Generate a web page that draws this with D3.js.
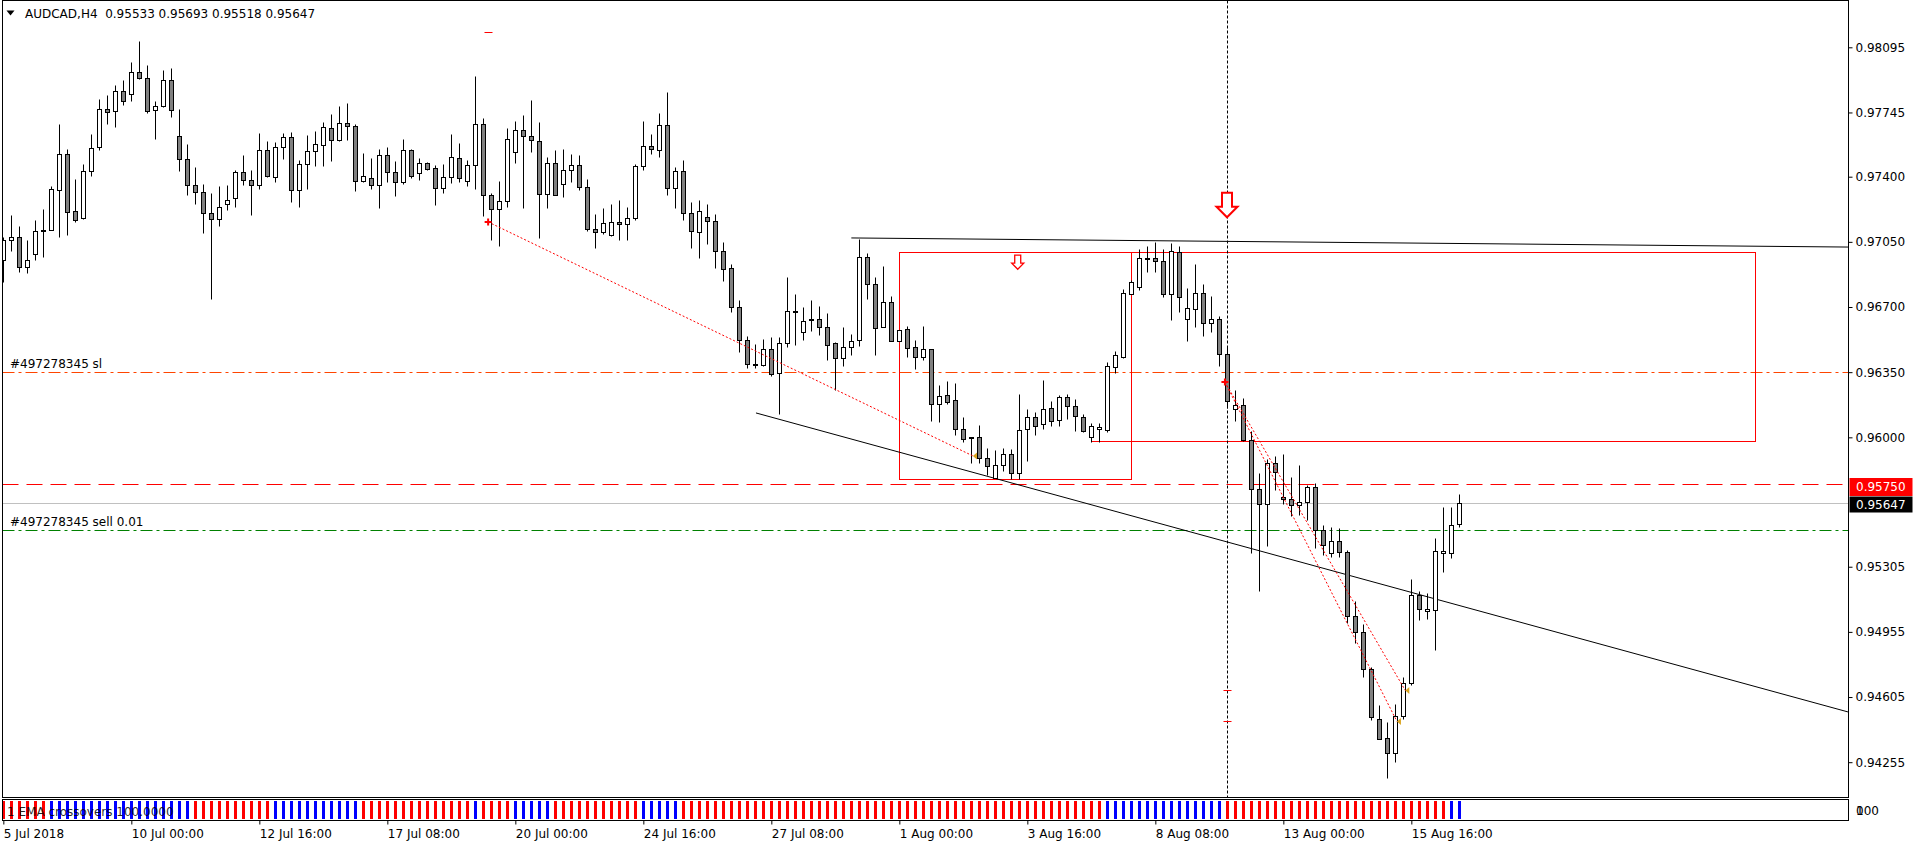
<!DOCTYPE html>
<html lang="en">
<head>
<meta charset="UTF-8">
<title>AUDCAD,H4</title>
<script src="https://d3js.org/d3.v7.min.js"></script>
<style>
    body { margin: 0; background: #fff; }
    svg { display: block; }
    text { font-family: "DejaVu Sans", sans-serif; font-size: 12px; }
</style>
</head>
<body>
<svg width="1916" height="847"></svg>
<script>
// ---- data ----
const title = "AUDCAD,H4  0.95533 0.95693 0.95518 0.95647";

const open = [
 0.96955,0.97062,0.97078,0.96915,0.96987,0.97114,0.97116,0.97331,0.97524,0.97218,
 0.97180,0.97432,0.97560,0.97766,0.97755,0.97862,0.97846,0.97964,0.97932,0.97760,
 0.97780,0.97921,0.97621,0.97497,0.97357,0.97320,0.97207,0.97175,0.97255,0.97283,
 0.97427,0.97384,0.97357,0.97545,0.97398,0.97562,0.97615,0.97331,0.97470,0.97540,
 0.97572,0.97664,0.97599,0.97690,0.97674,0.97379,0.97395,0.97357,0.97518,0.97427,
 0.97374,0.97545,0.97422,0.97475,0.97449,0.97341,0.97400,0.97502,0.97379,0.97465,
 0.97685,0.97304,0.97229,0.97272,0.97535,0.97653,0.97621,0.97594,0.97309,0.97476,
 0.97363,0.97438,0.97465,0.97347,0.97121,0.97105,0.97089,0.97159,0.97148,0.97180,
 0.97459,0.97567,0.97545,0.97680,0.97341,0.97433,0.97207,0.97105,0.97186,0.97164,
 0.97003,0.96912,0.96702,0.96525,0.96396,0.96391,0.96477,0.96346,0.96504,0.96675,
 0.96568,0.96632,0.96638,0.96595,0.96504,0.96428,0.96487,0.96525,0.96971,0.96826,
 0.96595,0.96729,0.96520,0.96584,0.96487,0.96434,0.96477,0.96181,0.96230,0.96198,
 0.96047,0.95994,0.96004,0.95891,0.95782,0.95850,0.95908,0.95809,0.96045,0.96107,
 0.96070,0.96158,0.96094,0.96216,0.96168,0.96107,0.96000,0.96045,0.96041,0.96380,
 0.96431,0.96771,0.96809,0.96960,0.96964,0.96949,0.96771,0.96994,0.96637,0.96690,
 0.96773,0.96616,0.96637,0.96450,0.96154,0.96174,0.95987,0.95720,0.95640,0.95864,
 0.95679,0.95671,0.95634,0.95655,0.95731,0.95500,0.95377,0.95443,0.95383,0.95038,
 0.94952,0.94757,0.94489,0.94386,0.94304,0.94504,0.94683,0.95151,0.95065,0.95075,
 0.95377,0.95377,0.95533
];
const high = [
 0.97076,0.97193,0.97134,0.97059,0.97166,0.97229,0.97349,0.97685,0.97551,0.97386,
 0.97466,0.97631,0.97819,0.97837,0.97895,0.97918,0.98014,0.98127,0.97998,0.97805,
 0.97971,0.97982,0.97762,0.97574,0.97452,0.97359,0.97315,0.97349,0.97354,0.97434,
 0.97515,0.97434,0.97635,0.97590,0.97585,0.97633,0.97639,0.97488,0.97622,0.97644,
 0.97692,0.97735,0.97778,0.97794,0.97681,0.97526,0.97499,0.97551,0.97558,0.97483,
 0.97601,0.97547,0.97499,0.97477,0.97465,0.97470,0.97628,0.97580,0.97492,0.97939,
 0.97717,0.97315,0.97375,0.97664,0.97698,0.97730,0.97810,0.97692,0.97508,0.97542,
 0.97547,0.97524,0.97519,0.97386,0.97198,0.97230,0.97255,0.97273,0.97236,0.97470,
 0.97698,0.97628,0.97740,0.97853,0.97450,0.97488,0.97266,0.97273,0.97252,0.97198,
 0.97048,0.96930,0.96736,0.96543,0.96500,0.96527,0.96539,0.96538,0.96860,0.96768,
 0.96699,0.96736,0.96704,0.96666,0.96511,0.96593,0.96554,0.97067,0.96992,0.96860,
 0.96922,0.96758,0.96579,0.96597,0.96525,0.96597,0.96477,0.96280,0.96301,0.96290,
 0.96108,0.96004,0.96066,0.95942,0.95930,0.95945,0.95940,0.96234,0.96152,0.96138,
 0.96308,0.96197,0.96230,0.96234,0.96205,0.96123,0.96076,0.96076,0.96407,0.96466,
 0.96795,0.96847,0.97011,0.97027,0.97048,0.97011,0.97042,0.97027,0.96801,0.96929,
 0.96822,0.96760,0.96651,0.96493,0.96255,0.96209,0.96035,0.95809,0.95881,0.95901,
 0.95909,0.95788,0.95850,0.95743,0.95757,0.95531,0.95521,0.95511,0.95396,0.95120,
 0.94997,0.94765,0.94561,0.94473,0.94566,0.94715,0.95237,0.95172,0.95166,0.95459,
 0.95624,0.95624,0.95693
];
const low = [
 0.96835,0.97001,0.96889,0.96880,0.96951,0.96969,0.97112,0.97076,0.97085,0.97157,
 0.97175,0.97404,0.97545,0.97683,0.97667,0.97787,0.97807,0.97927,0.97742,0.97603,
 0.97775,0.97721,0.97431,0.97304,0.97255,0.97100,0.96745,0.97136,0.97221,0.97237,
 0.97356,0.97196,0.97336,0.97398,0.97372,0.97495,0.97265,0.97237,0.97336,0.97458,
 0.97458,0.97486,0.97594,0.97596,0.97325,0.97372,0.97336,0.97234,0.97372,0.97297,
 0.97363,0.97395,0.97384,0.97438,0.97250,0.97313,0.97366,0.97372,0.97352,0.97334,
 0.97191,0.97062,0.97028,0.97238,0.97476,0.97232,0.97533,0.97071,0.97232,0.97304,
 0.97291,0.97372,0.97331,0.97109,0.97017,0.97092,0.97082,0.97058,0.97058,0.97166,
 0.97438,0.97522,0.97506,0.97300,0.97232,0.97170,0.97017,0.96964,0.97039,0.96910,
 0.96840,0.96674,0.96459,0.96375,0.96375,0.96382,0.96332,0.96128,0.96487,0.96495,
 0.96525,0.96572,0.96548,0.96418,0.96253,0.96385,0.96441,0.96491,0.96743,0.96443,
 0.96595,0.96520,0.96520,0.96432,0.96368,0.96418,0.96088,0.96083,0.96181,0.96015,
 0.95975,0.95860,0.95860,0.95798,0.95782,0.95819,0.95778,0.95778,0.95875,0.96014,
 0.96045,0.96059,0.96059,0.96097,0.96035,0.96029,0.95977,0.95977,0.96029,0.96343,
 0.96425,0.96771,0.96791,0.96888,0.96888,0.96754,0.96632,0.96672,0.96518,0.96594,
 0.96544,0.96565,0.96384,0.96158,0.96086,0.95979,0.95377,0.95172,0.95418,0.95716,
 0.95644,0.95577,0.95583,0.95556,0.95408,0.95367,0.95357,0.95357,0.95001,0.94894,
 0.94713,0.94479,0.94380,0.94169,0.94257,0.94487,0.94672,0.95018,0.95022,0.94857,
 0.95274,0.95350,0.95518
];
const close = [
 0.97062,0.97078,0.96915,0.96951,0.97110,0.97110,0.97336,0.97524,0.97211,0.97169,
 0.97432,0.97556,0.97766,0.97750,0.97862,0.97809,0.97964,0.97932,0.97755,0.97782,
 0.97921,0.97760,0.97497,0.97357,0.97320,0.97207,0.97175,0.97239,0.97277,0.97427,
 0.97384,0.97357,0.97545,0.97404,0.97562,0.97615,0.97331,0.97470,0.97540,0.97578,
 0.97669,0.97599,0.97690,0.97674,0.97379,0.97406,0.97357,0.97518,0.97427,0.97374,
 0.97545,0.97406,0.97475,0.97443,0.97341,0.97400,0.97508,0.97395,0.97465,0.97685,
 0.97304,0.97229,0.97272,0.97605,0.97653,0.97621,0.97599,0.97309,0.97476,0.97304,
 0.97438,0.97465,0.97347,0.97121,0.97105,0.97153,0.97159,0.97148,0.97180,0.97459,
 0.97567,0.97551,0.97680,0.97341,0.97433,0.97207,0.97110,0.97218,0.97164,0.97003,
 0.96906,0.96702,0.96525,0.96396,0.96389,0.96477,0.96342,0.96509,0.96681,0.96681,
 0.96627,0.96638,0.96595,0.96498,0.96428,0.96487,0.96520,0.96971,0.96826,0.96589,
 0.96729,0.96520,0.96579,0.96482,0.96434,0.96477,0.96181,0.96224,0.96192,0.96047,
 0.95993,0.96004,0.95891,0.95844,0.95850,0.95912,0.95809,0.96041,0.96107,0.96059,
 0.96154,0.96090,0.96216,0.96168,0.96113,0.96035,0.96059,0.96055,0.96384,0.96440,
 0.96773,0.96836,0.96964,0.96964,0.96945,0.96771,0.96999,0.96754,0.96696,0.96773,
 0.96616,0.96637,0.96450,0.96193,0.96172,0.95987,0.95720,0.95640,0.95864,0.95815,
 0.95671,0.95634,0.95655,0.95731,0.95500,0.95424,0.95443,0.95383,0.95038,0.94952,
 0.94757,0.94500,0.94380,0.94304,0.94504,0.94683,0.95151,0.95079,0.95079,0.95387,
 0.95387,0.95531,0.95647
];

// EMA crossover histogram, one letter per bar (r = down, b = up)
const emaCross = [
 "rrrrrr", "bbbbbbbbbbbbbbbbbb", "rrrrrrrrrr", "bbbbbbbbbbb", "rrrrrrrrrrrrrr",
 "b", "rrrr", "bbbbb", "rrrrrrrrrrr", "bbbbb",
 "rrrrrrrrrrrrrrrrrrrrrrrrrrrrrrrrrrrrrrrrrrrrrrrrrrrrr",
 "bbbbbbbbbbbbbbb", "rrrrrrrrrrrrrrrrrrrrrrrrrrrr", "bb"
].join("");

const priceTicks = [0.98095, 0.97745, 0.97400, 0.97050, 0.96700, 0.96350, 0.96000, 0.95305, 0.94955, 0.94605, 0.94255];
const timeTickIdx = [0, 16, 32, 48, 64, 80, 96, 112, 128, 144, 160, 176];
const timeLabels = ["5 Jul 2018", "10 Jul 00:00", "12 Jul 16:00", "17 Jul 08:00", "20 Jul 00:00", "24 Jul 16:00",
                    "27 Jul 08:00", "1 Aug 00:00", "3 Aug 16:00", "8 Aug 08:00", "13 Aug 00:00", "15 Aug 16:00"];

// order lines
const slPrice = 0.96350, slName = "#497278345 sl";
const orderPrice = 0.95500, orderName = "#497278345 sell 0.01";
const alertPrice = 0.95750;
const bidPrice = 0.95647;

// objects: [bar index, price]
const topTrend = [[106, 0.97071], [230.58, 0.97022]];
const lowTrend = [[94.08, 0.96131], [230.58, 0.94525]];
const boxA = [[111.96, 0.96995], [140.96, 0.95776]];
const boxB = [[140.96, 0.96995], [218.96, 0.95980]];
const boxBLedge = [[135.96, 0.95980], [140.96, 0.95980]];
const tradeLines = [
    [[60.6, 0.97157], [121.2, 0.95900]],
    [[152.7, 0.96297], [174.2, 0.94474]],
    [[152.7, 0.96297], [175.25, 0.94640]]
];
const openCrosses = [[60.6, 0.97157], [152.7, 0.96297]];
const closeMarks = [[121.2, 0.95900], [174.2, 0.94474], [175.25, 0.94640]];
const levelTicks = [[60.6, 0.98176], [152.96, 0.94643], [152.96, 0.94474]];
const cursorBar = 152.96;
const bigArrow = [152.96, 0.97182];
const smallArrow = [126.8, 0.96903];

// ---- drawing ----
const svg = d3.select("svg");
const plotL = 2.5, plotT = 0.5, plotR = 1848.5, plotB = 797.5;
const indT = 799.5, indB = 820.5;

const x = d3.scaleLinear().domain([0, 230]).range([3.33, 1843.33]);
const y = d3.scaleLinear().domain([0.94255, 0.98095]).range([762.2, 47.3]);
const px = i => Math.round(x(i)) + 0.5;
const py = p => Math.round(y(p)) + 0.5;

svg.append("rect").attr("width", 1916).attr("height", 847).attr("fill", "#fff");

svg.append("defs").append("clipPath").attr("id", "plotClip")
    .append("rect").attr("x", plotL).attr("y", plotT).attr("width", plotR - plotL).attr("height", plotB - plotT);

const plot = svg.append("g").attr("clip-path", "url(#plotClip)");

// horizontal levels
function hLine(price, color, dash) {
    plot.append("line")
        .attr("x1", plotL).attr("x2", plotR)
        .attr("y1", py(price)).attr("y2", py(price))
        .attr("stroke", color).attr("stroke-width", 1)
        .attr("stroke-dasharray", dash);
}
hLine(bidPrice, "#C0C0C0", null);
hLine(slPrice, "#FF4500", "12,4,3,4");
hLine(orderPrice, "#008000", "12,4,3,4");
hLine(alertPrice, "#FF0000", "16,8");

// rectangles
[boxA, boxB].forEach(b => {
    plot.append("rect")
        .attr("x", px(b[0][0])).attr("y", py(b[0][1]))
        .attr("width", px(b[1][0]) - px(b[0][0]))
        .attr("height", py(b[1][1]) - py(b[0][1]))
        .attr("fill", "none").attr("stroke", "#FF0000");
});
plot.append("line")
    .attr("x1", px(boxBLedge[0][0])).attr("x2", px(boxBLedge[1][0]))
    .attr("y1", py(boxBLedge[0][1])).attr("y2", py(boxBLedge[1][1]))
    .attr("stroke", "#FF0000");

// trend lines
[topTrend, lowTrend].forEach(t => {
    plot.append("line")
        .attr("x1", x(t[0][0])).attr("y1", y(t[0][1]))
        .attr("x2", x(t[1][0])).attr("y2", y(t[1][1]))
        .attr("stroke", "#000").attr("stroke-width", 1);
});

// vertical cursor line
plot.append("line")
    .attr("x1", px(cursorBar)).attr("x2", px(cursorBar))
    .attr("y1", plotT).attr("y2", plotB)
    .attr("stroke", "#000").attr("stroke-dasharray", "3,2");

// candles
const candles = plot.append("g");
open.forEach((o, i) => {
    const c = close[i];
    const cx = px(i);
    candles.append("line")
        .attr("x1", cx).attr("x2", cx)
        .attr("y1", py(high[i])).attr("y2", py(low[i]))
        .attr("stroke", "#000");
    const top = py(Math.max(o, c)), bot = py(Math.min(o, c));
    candles.append("rect")
        .attr("x", cx - 2).attr("y", top)
        .attr("width", 4).attr("height", bot - top)
        .attr("fill", c < o ? "#808080" : "#fff")
        .attr("stroke", "#000");
});

// trade history
tradeLines.forEach(t => {
    plot.append("line")
        .attr("x1", x(t[0][0])).attr("y1", y(t[0][1]))
        .attr("x2", x(t[1][0])).attr("y2", y(t[1][1]))
        .attr("stroke", "#FF0000").attr("stroke-dasharray", "2,2");
});
openCrosses.forEach(([i, p]) => {
    const cx = x(i), cy = y(p);
    plot.append("path")
        .attr("d", `M${cx - 3.5},${cy}H${cx + 3.5}M${cx},${cy - 3.5}V${cy + 3.5}`)
        .attr("stroke", "#FF0000").attr("stroke-width", 2);
});
closeMarks.forEach(([i, p]) => {
    const cx = x(i), cy = y(p);
    plot.append("path")
        .attr("d", `M${cx},${cy}L${cx + 4},${cy - 3.5}L${cx + 4},${cy + 3.5}Z`)
        .attr("fill", "#DAA520");
});
levelTicks.forEach(([i, p]) => {
    plot.append("line")
        .attr("x1", px(i) - 4).attr("x2", px(i) + 4)
        .attr("y1", py(p)).attr("y2", py(p))
        .attr("stroke", "#FF0000");
});

// down arrows (tip at given price)
function downArrow([i, p], shaftW, headW, len, headLen, sw) {
    const cx = x(i), tip = y(p), top = tip - len, hy = tip - headLen;
    plot.append("path")
        .attr("d", `M${cx - shaftW},${top}H${cx + shaftW}V${hy}H${cx + headW}L${cx},${tip}L${cx - headW},${hy}H${cx - shaftW}Z`)
        .attr("fill", "#fff").attr("stroke", "#FF0000").attr("stroke-width", sw)
        .attr("stroke-linejoin", "miter");
}
downArrow(bigArrow, 5, 10.5, 24.5, 10.5, 2);
downArrow(smallArrow, 3, 6, 14, 6, 1.3);

// order labels
svg.append("text").attr("x", 10).attr("y", py(slPrice) - 5).attr("fill", "#000").text(slName);
svg.append("text").attr("x", 10).attr("y", py(orderPrice) - 5).attr("fill", "#000").text(orderName);

// frames
svg.append("rect").attr("x", plotL).attr("y", plotT).attr("width", plotR - plotL).attr("height", plotB - plotT)
    .attr("fill", "none").attr("stroke", "#000");

// price axis
const yAxis = d3.axisRight(y).tickValues(priceTicks).tickSize(4).tickPadding(3).tickFormat(d3.format(".5f"));
svg.append("g").attr("transform", `translate(${plotR},0)`).call(yAxis)
    .call(g => g.select(".domain").remove())
    .call(g => g.selectAll("line").attr("stroke", "#000"))
    .call(g => g.selectAll("text").attr("font-family", "DejaVu Sans").attr("font-size", 12).attr("fill", "#000"));

// price tags
function priceTag(price, bg, top, h) {
    svg.append("rect").attr("x", plotR + 1).attr("y", top).attr("width", 63).attr("height", h).attr("fill", bg);
    svg.append("text").attr("x", 1856).attr("y", top + h / 2).attr("dy", "0.36em")
        .attr("fill", "#fff").text(d3.format(".5f")(price));
}
priceTag(alertPrice, "#FF0000", py(alertPrice) - 6.5, 18);
priceTag(bidPrice, "#000", py(bidPrice) - 7, 16);

// indicator window
const ind = svg.append("g");
const yInd = d3.scaleLinear().domain([0, 100]).range([indB - 1.5, indT + 1.5]);
emaCross.split("").forEach((k, i) => {
    ind.append("rect")
        .attr("x", Math.round(x(i)) - 1).attr("y", yInd(100))
        .attr("width", 3).attr("height", yInd(0) - yInd(100))
        .attr("fill", k === "b" ? "#0000FF" : "#FF0000");
});
ind.append("rect").attr("x", plotL).attr("y", indT).attr("width", plotR - plotL).attr("height", indB - indT)
    .attr("fill", "none").attr("stroke", "#000");
ind.append("text").attr("x", 7).attr("y", 816).attr("fill", "#000").attr("fill-opacity", 0.85)
    .text("1 EMA crossovers 100.0000");
ind.append("text").attr("x", 1856).attr("y", 815).attr("fill", "#000").text("100");
ind.append("text").attr("x", 1856).attr("y", 815).attr("fill", "#000").text("0");

// time axis
const xAxis = d3.axisBottom(x).tickValues(timeTickIdx).tickSize(4).tickPadding(5)
    .tickFormat((d, k) => timeLabels[k]);
svg.append("g").attr("transform", `translate(0,${indB})`).call(xAxis)
    .call(g => g.select(".domain").remove())
    .call(g => g.selectAll("line").attr("stroke", "#000"))
    .call(g => g.selectAll("text").attr("text-anchor", "start").attr("x", 0)
        .attr("font-family", "DejaVu Sans").attr("font-size", 12).attr("fill", "#000"));

// header
svg.append("path").attr("d", "M6.5,10.5L14.5,10.5L10.5,15.5Z").attr("fill", "#000");
svg.append("text").attr("x", 25).attr("y", 18).attr("fill", "#000").attr("xml:space", "preserve").text(title);
</script>
</body>
</html>
